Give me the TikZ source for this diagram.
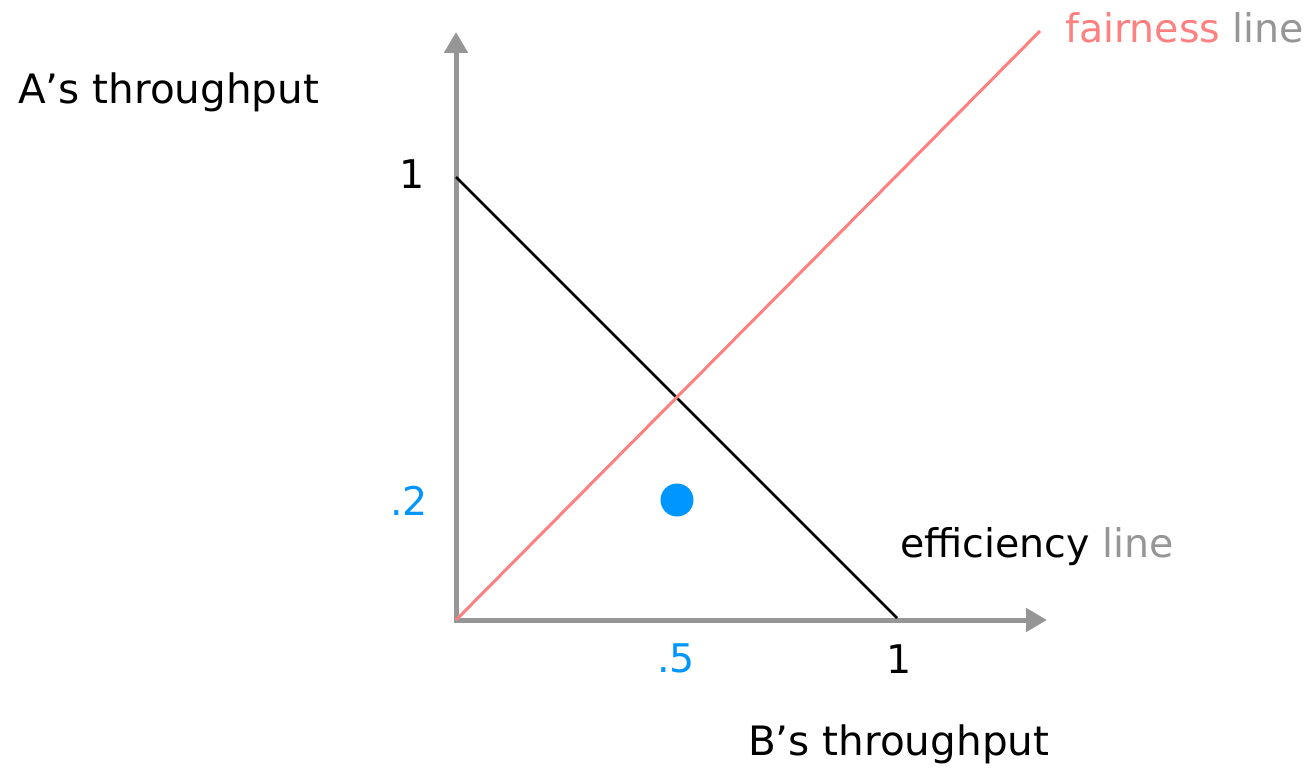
\documentclass[tikz,border=0pt]{standalone}
\usepackage{fontspec}
\setmainfont{DejaVu Sans}
\usetikzlibrary{arrows.meta}
\definecolor{axisgray}{RGB}{150,150,150}
\definecolor{fairred}{RGB}{255,128,128}
\definecolor{ptblue}{RGB}{0,150,255}
\begin{document}
\begin{tikzpicture}[x=1pt,y=-1pt,
  lbl/.style={inner sep=0pt,font=\fontsize{39.5}{47}\selectfont},
  biglbl/.style={inner sep=0pt,font=\fontsize{40.5}{48}\selectfont},
  axisline/.style={draw=axisgray,line width=5pt,line join=miter,
    arrows={Triangle[length=21pt,width=23pt]-Triangle[length=21pt,width=23pt]}},
  effline/.style={draw=black,line width=2.6pt},
  fairline/.style={draw=fairred,line width=3pt},
  ptdot/.style={circle,fill=ptblue,minimum size=33pt,inner sep=0pt}]
\useasboundingbox (0,0) rectangle (1312,776);
\coordinate (O) at (456,620);
\coordinate (ytip) at (456,32);
\coordinate (xtip) at (1047,620);
\coordinate (e1) at (456,177);
\coordinate (e2) at (897,618);
\coordinate (fend) at (1040,31);
\draw[axisline] (ytip) -- (O) -- (xtip);
\draw[effline] (e1) -- (e2);
\draw[fairline] (O) -- (fend);
\node[ptdot] (pt) at (677,500) {};
\node[biglbl,anchor=base west] (ylab) at (18,103) {A’s throughput};
\node[biglbl,anchor=base west] (xlab) at (748,755) {B’s throughput};
\node[lbl,anchor=base] (yone) at (412,188) {1};
\node[lbl,anchor=base east,text=ptblue] (ytwo) at (428,515) {.2};
\node[lbl,anchor=base,text=ptblue] (xhalf) at (676,672) {.5};
\node[lbl,anchor=base] (xone) at (899,673) {1};
\node[lbl,anchor=base west] (efflab) at (900,557) {efficiency \textcolor{axisgray}{line}};
\node[lbl,anchor=base west] (fairlab) at (1065,43) {\textcolor{fairred}{fairness} \textcolor{axisgray}{line}};
\end{tikzpicture}
\end{document}
